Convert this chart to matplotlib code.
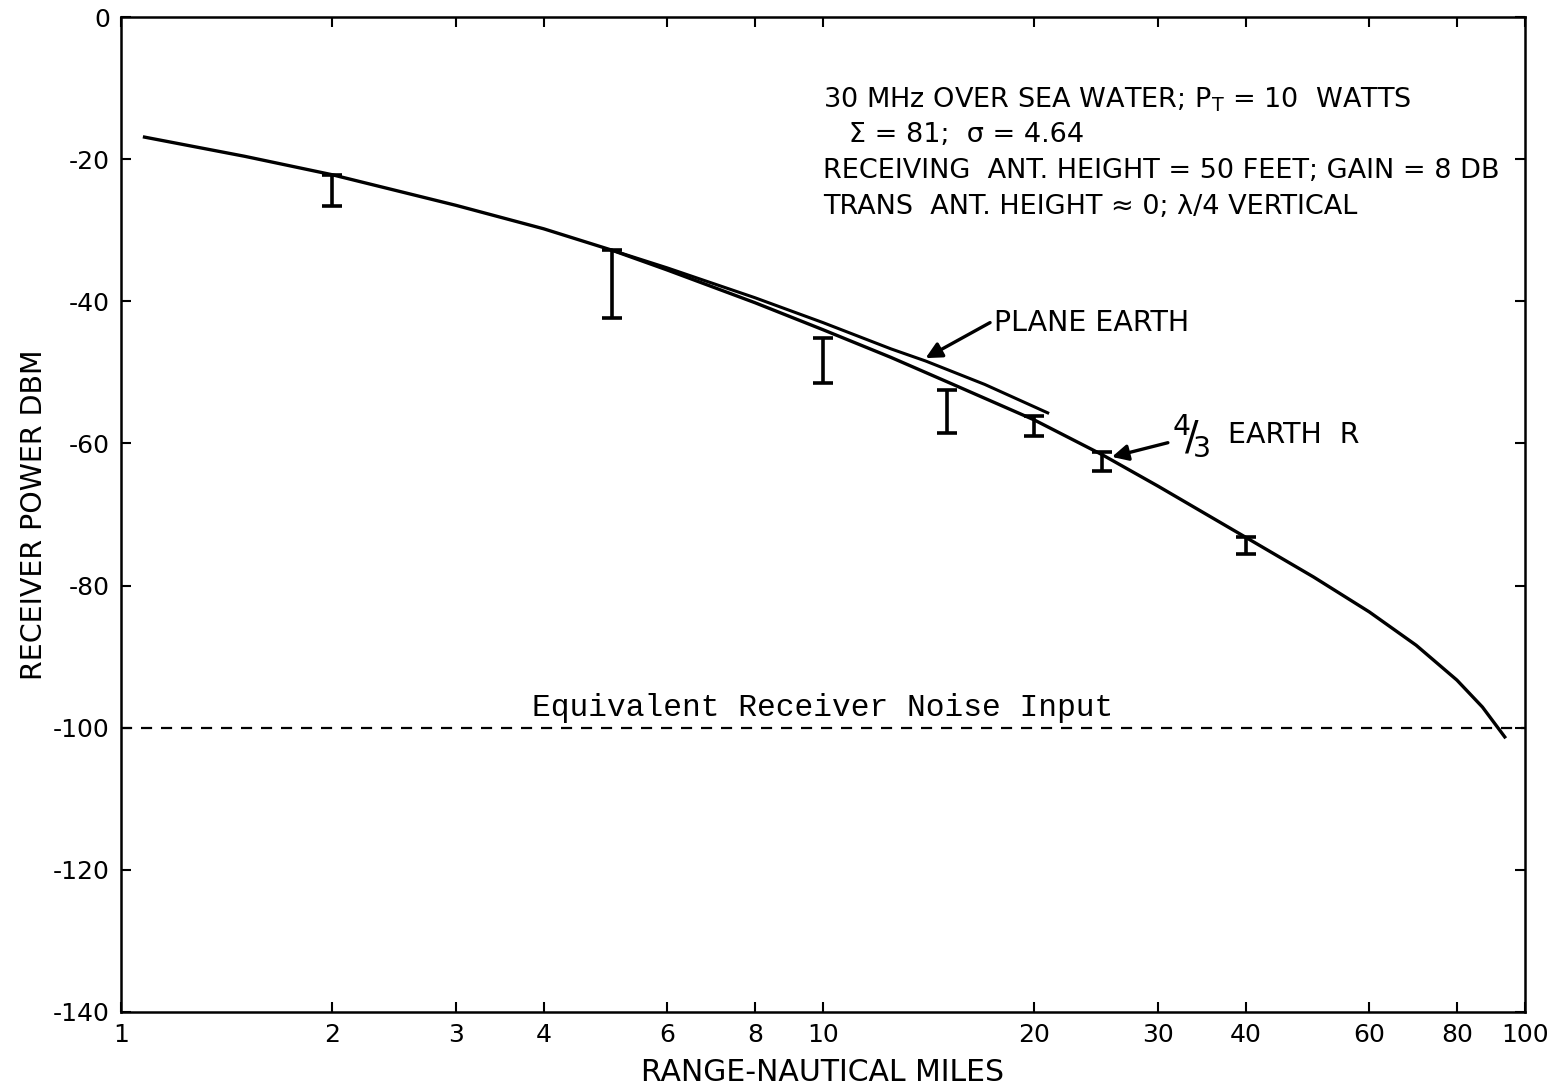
import numpy as np
from matplotlib import pyplot as plt

plt.rcParams["axes.unicode_minus"] = False

# 4/3 earth radius curve (range in nautical miles, power in dBm)
earth43_x = [1.08, 1.5, 2.0, 3.0, 4.0, 5.0, 6.0, 8.0, 10.0, 12.5, 15.0, 20.0,
             25.0, 30.0, 40.0, 50.0, 60.0, 70.0, 80.0, 87.0, 93.6]
earth43_y = [-16.9, -19.6, -22.2, -26.5, -29.8, -32.8, -35.6, -40.2, -44.0, -47.9,
             -51.3, -56.7, -61.6, -66.0, -73.2, -78.8, -83.7, -88.4, -93.3, -97.1,
             -101.3]

# plane earth curve
plane_x = [5.0, 6.0, 8.0, 10.0, 12.5, 14.0, 17.0, 20.9]
plane_y = [-32.8, -35.3, -39.5, -43.0, -46.7, -48.4, -51.7, -55.7]

# measured ranges (error bars)
meas_x = [2, 5, 10, 15, 20, 25, 40]
meas_hi = [-22.2, -32.8, -45.2, -52.5, -56.1, -61.2, -73.2]
meas_lo = [-26.6, -42.4, -51.5, -58.5, -59.0, -63.9, -75.6]

noise_level = -100

xticks = [1, 2, 3, 4, 6, 8, 10, 20, 30, 40, 60, 80, 100]
yticks = [0, -20, -40, -60, -80, -100, -120, -140]

info_lines = [
    "30 MHz OVER SEA WATER; P$_\\mathrm{T}$ = 10  WATTS",
    "   \u03a3 = 81;  \u03c3 = 4.64",
    "RECEIVING  ANT. HEIGHT = 50 FEET; GAIN = 8 DB",
    "TRANS  ANT. HEIGHT \u2248 0; \u03bb/4 VERTICAL",
]

fig = plt.figure(figsize=(15.64, 10.90), dpi=100)
ax = fig.add_axes([0.0774, 0.0716, 0.8976, 0.9128])

ax.set_xscale("log")
ax.set_xlim(1, 100)
ax.set_ylim(-140, 0)

ax.plot(earth43_x, earth43_y, color="black", lw=2.4, solid_joinstyle="round")
ax.plot(plane_x, plane_y, color="black", lw=2.2, solid_joinstyle="round")

mid = [(h + l) / 2 for h, l in zip(meas_hi, meas_lo)]
half = [(h - l) / 2 for h, l in zip(meas_hi, meas_lo)]
ax.errorbar(meas_x, mid, yerr=half, fmt="none", ecolor="black",
            elinewidth=2.6, capsize=7, capthick=2.6)

ax.axhline(noise_level, color="black", lw=1.6, ls=(0, (5, 4)))
ax.text(10, noise_level + 0.6, "Equivalent Receiver Noise Input",
        family="Liberation Mono", fontsize=22.5, ha="center", va="bottom")

for i, line in enumerate(info_lines):
    ax.text(0.5, 0.917 - i * 0.036, line, transform=ax.transAxes,
            fontsize=19.5, ha="left", va="center")

arrow = dict(arrowstyle="-|>", color="black", lw=2.4,
             mutation_scale=24, shrinkA=0, shrinkB=0)

ax.annotate("", xy=(14.0, -48.0), xytext=(17.3, -43.0), arrowprops=arrow)
ax.text(17.5, -43.0, "PLANE EARTH", fontsize=20.5, ha="left", va="center")

ax.annotate("", xy=(25.8, -61.9), xytext=(31.0, -59.9), arrowprops=arrow)
ax.text(31.4, -59.0, "$^{4}\\!/\\!_{3}$", fontsize=29, ha="left", va="center")
ax.text(37.8, -58.8, "EARTH  R", fontsize=20.5, ha="left", va="center")

ax.set_xticks(xticks)
ax.set_xticklabels([str(t) for t in xticks])
ax.xaxis.set_minor_locator(plt.NullLocator())
ax.set_yticks(yticks)
ax.tick_params(direction="in", length=7, width=1.5, labelsize=18,
               top=True, right=True, pad=8)

for s in ax.spines.values():
    s.set_linewidth(1.8)

ax.set_xlabel("RANGE-NAUTICAL MILES", fontsize=21.5, labelpad=8)
ax.set_ylabel("RECEIVER POWER DBM", fontsize=20.5, labelpad=4)

fig.savefig("out.png", dpi=100)
